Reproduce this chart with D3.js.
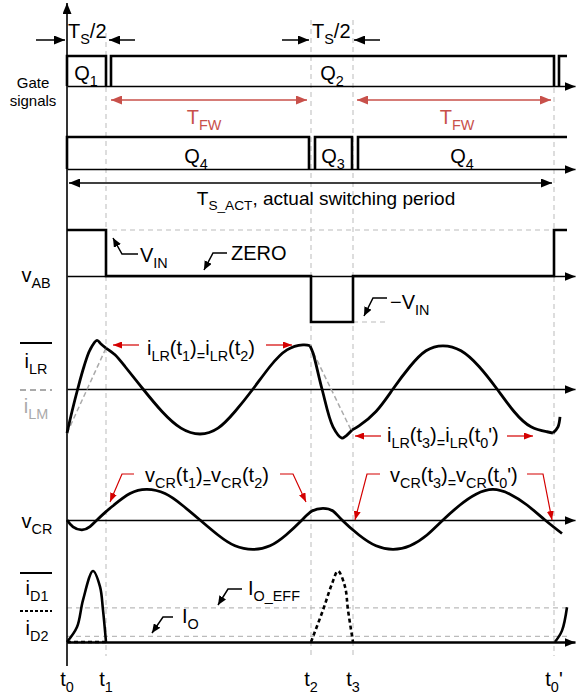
<!DOCTYPE html>
<html>
<head>
<meta charset="utf-8">
<script src="https://cdn.jsdelivr.net/npm/d3@7"></script>
<style>
  body { margin: 0; background: #fff; }
  svg { font-family: "Liberation Sans", Arial, sans-serif; }
</style>
</head>
<body>
<div id="chart"></div>
<script>
// time instants (t0, t1, t2, t3, t0') and their labels
const tMarks = [0, 0.39, 2.44, 2.86, 4.87];
const tLabels = [["t", ["0"]], ["t", ["1"]], ["t", ["2"]], ["t", ["3"]], ["t", ["0"], "'"]];
const tEnd = 5.0;

// gate signals: on intervals
const q1On = [[0, 0.39], [4.92, 5.0]];
const q2On = [[0.44, 4.87]];
const q3On = [[2.48, 2.85]];
const q4On = [[0, 2.42], [2.91, 5.0]];

// vAB steps (time, level)
const vabSteps = [[0, 1], [0.39, 0], [2.44, -1], [2.86, 0], [4.87, 1], [5.0, 1]];

// resonant current iLR, one segment per interval
const ilrSegs = [
    [[0, -0.98], [0.05, -0.5], [0.107, 0], [0.17, 0.5], [0.23, 0.87], [0.30, 1.08], [0.34, 1.0], [0.39, 0.91]],
    [[0.39, 0.91], [0.48, 0.76], [0.58, 0.5], [0.76, 0], [0.95, -0.5], [1.14, -0.87], [1.33, -1.0],
     [1.51, -0.87], [1.68, -0.5], [1.86, 0], [2.03, 0.5], [2.2, 0.87], [2.36, 0.98], [2.43, 0.96]],
    [[2.43, 0.96], [2.46, 0.8], [2.55, 0], [2.66, -0.84], [2.75, -1.09], [2.78, -1.06], [2.85, -0.91]],
    [[2.85, -0.91], [2.92, -0.82], [3.09, -0.5], [3.26, 0], [3.43, 0.5], [3.59, 0.85], [3.76, 0.96],
     [3.94, 0.85], [4.12, 0.5], [4.30, 0], [4.47, -0.5], [4.64, -0.84], [4.80, -0.95], [4.86, -0.98]],
    [[4.86, -0.98], [4.91, -0.84], [4.93, -0.62]]
];
// which iLR segments are smooth resonant arcs
const ilrSmooth = [false, true, false, true, false];
// magnetizing current iLM (dashed, where it is visible)
const ilmSegs = [
    [[0, -0.98], [0.39, 0.91]],
    [[2.43, 0.96], [2.84, -0.91]]
];

// resonant capacitor voltage vCR
const vcrPts = [[0, 0], [0.06, -0.23], [0.15, -0.33], [0.23, -0.22], [0.30, 0], [0.39, 0.28], [0.47, 0.5],
    [0.63, 0.88], [0.80, 1.02], [0.98, 0.88], [1.15, 0.5], [1.33, 0], [1.51, -0.5], [1.68, -0.86],
    [1.86, -0.98], [2.03, -0.86], [2.19, -0.5], [2.35, 0], [2.45, 0.3], [2.56, 0.39], [2.66, 0.3],
    [2.75, 0], [2.92, -0.5], [3.09, -0.86], [3.26, -0.98], [3.43, -0.86], [3.60, -0.5], [3.76, 0],
    [3.93, 0.5], [4.09, 0.86], [4.26, 1.02], [4.43, 0.86], [4.60, 0.5], [4.78, 0], [4.95, -0.45]];

// diode currents
const id1Segs = [
    [[0, 0], [0.10, 0.21], [0.16, 0.59], [0.26, 1.0], [0.33, 0.78], [0.36, 0.45], [0.39, 0]],
    [[4.88, 0], [4.95, 0.16], [5.0, 0.49]]
];
const id2Segs = [
    [[2.44, 0], [2.56, 0.45], [2.65, 0.82], [2.71, 1.0], [2.78, 0.78], [2.81, 0.45], [2.86, 0]]
];
const id2Zero = [[0, 0], [0.39, 0]];
const ioEff = 0.48, io = 0.08;

const W = 576, H = 695;
const RED = "#c8504a", RED2 = "#d40000", GRAY = "#bbbbbb";

const svg = d3.select("#chart").append("svg").attr("width", W).attr("height", H);

const x = d3.scaleLinear().domain([0, 5.08]).range([67, 575]);
const yQ12 = d3.scaleLinear().domain([0, 1]).range([86, 56]);
const yQ34 = d3.scaleLinear().domain([0, 1]).range([169, 137]);
const yAB = d3.scaleLinear().domain([-1, 1]).range([322, 230]);
const yLR = d3.scaleLinear().domain([-1, 1]).range([434, 344]);
const yCR = d3.scaleLinear().domain([-1, 1]).range([550, 490]);
const yD = d3.scaleLinear().domain([0, 1]).range([642, 571]);

// arrow markers
const defs = svg.append("defs");
function marker(id, color, w, h) {
    defs.append("marker").attr("id", id)
        .attr("viewBox", `0 0 ${w} ${h}`).attr("refX", w).attr("refY", h / 2)
        .attr("markerWidth", w).attr("markerHeight", h)
        .attr("markerUnits", "userSpaceOnUse").attr("orient", "auto-start-reverse")
        .append("path").attr("d", `M0,0L${w},${h / 2}L0,${h}z`).attr("fill", color);
}
marker("ab", "#000", 11, 9);
marker("ar", RED, 11, 9);
marker("ar2", RED2, 9, 7);
marker("as", "#000", 9, 8);

// text with subscripts: parts are strings or [sub]
function rich(g, px, py, parts, size, anchor = "start", color = "#000") {
    const t = g.append("text").attr("x", px).attr("y", py)
        .attr("font-size", size).attr("text-anchor", anchor).attr("fill", color);
    let shift = 0;
    parts.forEach(p => {
        const sub = Array.isArray(p);
        const s = sub ? p[0] : p;
        const want = sub ? size * 0.28 : 0;
        const ts = t.append("tspan").text(s);
        if (want !== shift) { ts.attr("dy", want - shift); shift = want; }
        if (sub) ts.attr("font-size", size * 0.72);
    });
    return t;
}

// dashed guides at switching instants
const guideTop = [null, 33, 20, 20, 88];
tMarks.forEach((t, i) => {
    if (i === 0) return;
    svg.append("line").attr("x1", x(t)).attr("x2", x(t))
        .attr("y1", guideTop[i]).attr("y2", 656)
        .attr("stroke", GRAY).attr("stroke-width", 1).attr("stroke-dasharray", "5,4");
});

// horizontal guides
function hguide(x1, x2, y) {
    svg.append("line").attr("x1", x1).attr("x2", x2).attr("y1", y).attr("y2", y)
        .attr("stroke", GRAY).attr("stroke-width", 1.2).attr("stroke-dasharray", "5,4");
}
hguide(x(0.45), x(4.86), yAB(1));
hguide(x(2.86), x(3.18), yAB(-1));
hguide(x(0), x(tEnd), yD(ioEff));
hguide(x(0), x(tEnd), yD(io));

// baselines (axes without ticks) with arrowheads
[yQ12(0), yQ34(0), yAB(0), yLR(0), yCR(0), yD(0)].forEach((yy, i) => {
    const g = svg.append("g").attr("transform", `translate(0,${yy})`)
        .call(d3.axisBottom(x).tickValues([]).tickSizeOuter(0));
    g.select(".domain").attr("stroke", "#000")
        .attr("stroke-width", i === 5 ? 2.6 : 1.6).attr("marker-end", "url(#ab)");
});
// vertical axis
svg.append("line").attr("x1", x(0)).attr("x2", x(0)).attr("y1", 666).attr("y2", 3)
    .attr("stroke", "#000").attr("stroke-width", 1.6).attr("marker-end", "url(#ab)");

// gate pulses
function pulses(on, yS) {
    on.forEach(([a, b]) => {
        let d = `M${x(a)},${yS(0)}V${yS(1)}H${x(b)}`;
        if (b < tEnd) d += `V${yS(0)}`;
        svg.append("path").attr("d", d).attr("fill", "none")
            .attr("stroke", "#000").attr("stroke-width", 2.6);
    });
}
pulses(q1On, yQ12); pulses(q2On, yQ12); pulses(q3On, yQ34); pulses(q4On, yQ34);

rich(svg, 86, 80, ["Q", ["1"]], 20, "middle");
rich(svg, 332, 80, ["Q", ["2"]], 20, "middle");
rich(svg, 196, 163, ["Q", ["4"]], 20, "middle");
rich(svg, 333, 163, ["Q", ["3"]], 20, "middle");
rich(svg, 462, 163, ["Q", ["4"]], 20, "middle");
svg.append("text").attr("x", 33).attr("y", 88).attr("text-anchor", "middle").attr("font-size", 15).text("Gate");
svg.append("text").attr("x", 33).attr("y", 106).attr("text-anchor", "middle").attr("font-size", 15).text("signals");

// Ts/2 arrows
function arrow(d, m, color = "#000", w = 1.5) {
    svg.append("path").attr("d", d).attr("fill", "none").attr("stroke", color)
        .attr("stroke-width", w).attr("marker-end", `url(#${m})`);
}
arrow("M36,40H65", "ab"); arrow("M135,40H109", "ab");
arrow("M282,40H309", "ab"); arrow("M380,40H354", "ab");
rich(svg, 68, 38, ["T", ["S"], "/2"], 20);
rich(svg, 312, 38, ["T", ["S"], "/2"], 20);

// TFW arrows
[[0.44, 2.40], [2.90, 4.84]].forEach(([a, b]) => {
    svg.append("line").attr("x1", x(a)).attr("x2", x(b)).attr("y1", 100).attr("y2", 100)
        .attr("stroke", RED).attr("stroke-width", 1.5)
        .attr("marker-start", "url(#ar)").attr("marker-end", "url(#ar)");
});
rich(svg, 204, 124, ["T", ["FW"]], 20, "middle", RED);
rich(svg, 457, 124, ["T", ["FW"]], 20, "middle", RED);

// actual switching period
svg.append("line").attr("x1", x(0) + 2).attr("x2", x(4.87) - 2).attr("y1", 183).attr("y2", 183)
    .attr("stroke", "#000").attr("stroke-width", 1.5)
    .attr("marker-start", "url(#ab)").attr("marker-end", "url(#ab)");
rich(svg, 326, 205, ["T", ["S_ACT"], ", actual switching period"], 19, "middle");

// vAB
svg.append("path").datum(vabSteps)
    .attr("d", d3.line().x(d => x(d[0])).y(d => yAB(d[1])).curve(d3.curveStepAfter))
    .attr("fill", "none").attr("stroke", "#000").attr("stroke-width", 2.6);
rich(svg, 36, 282, ["v", ["AB"]], 20, "middle");
arrow("M138,254H122L113,238", "as", "#000", 1.5);
rich(svg, 140, 262, ["V", ["IN"]], 20);
arrow("M227,253H213L204,270", "as", "#000", 1.5);
svg.append("text").attr("x", 231).attr("y", 260).attr("font-size", 20).text("ZERO");
arrow("M387,298H373L364,316", "as", "#000", 1.5);
rich(svg, 390, 309, ["\u2212V", ["IN"]], 20);

// iLR / iLM
const lineLR = d3.line().x(d => x(d[0])).y(d => yLR(d[1])).curve(d3.curveCatmullRom.alpha(0.5));
const lineLRs = d3.line().x(d => x(d[0])).y(d => yLR(d[1])).curve(d3.curveNatural);
ilmSegs.forEach(s => svg.append("path").datum(s).attr("d", lineLR)
    .attr("fill", "none").attr("stroke", "#aaa").attr("stroke-width", 1.5).attr("stroke-dasharray", "5,3"));
ilrSegs.forEach((s, i) => svg.append("path").datum(s).attr("d", ilrSmooth[i] ? lineLRs : lineLR)
    .attr("fill", "none").attr("stroke", "#000").attr("stroke-width", 2.8).attr("stroke-linejoin", "round"));
svg.append("line").attr("x1", 20).attr("x2", 52).attr("y1", 343).attr("y2", 343)
    .attr("stroke", "#000").attr("stroke-width", 2);
rich(svg, 36, 368, ["i", ["LR"]], 20, "middle");
svg.append("line").attr("x1", 20).attr("x2", 52).attr("y1", 390).attr("y2", 390)
    .attr("stroke", "#aaa").attr("stroke-width", 2).attr("stroke-dasharray", "6,4");
rich(svg, 36, 413, ["i", ["LM"]], 20, "middle", "#aaa");

arrow("M139,345H113", "ar2", RED2, 1.2);
arrow("M266,345H292", "ar2", RED2, 1.2);
rich(svg, 147, 355, ["i", ["LR"], "(t", ["1"], ")", ["="], "i", ["LR"], "(t", ["2"], ")"], 20);
arrow("M381,436H355", "ar2", RED2, 1.2);
arrow("M507,436H533", "ar2", RED2, 1.2);
rich(svg, 387, 442, ["i", ["LR"], "(t", ["3"], ")", ["="], "i", ["LR"], "(t", ["0"], "')"], 20);

// vCR
const lineCR = d3.line().x(d => x(d[0])).y(d => yCR(d[1])).curve(d3.curveNatural);
svg.append("path").datum(vcrPts).attr("d", lineCR)
    .attr("fill", "none").attr("stroke", "#000").attr("stroke-width", 2.8);
rich(svg, 37, 528, ["v", ["CR"]], 20, "middle");
arrow("M134,474H122L110,502", "ar2", RED2, 1.2);
arrow("M280,474H293L306,502", "ar2", RED2, 1.2);
rich(svg, 145, 482, ["v", ["CR"], "(t", ["1"], ")", ["="], "v", ["CR"], "(t", ["2"], ")"], 20);
arrow("M380,474H367L355,520", "ar2", RED2, 1.2);
arrow("M527,474H543L552,520", "ar2", RED2, 1.2);
rich(svg, 390, 482, ["v", ["CR"], "(t", ["3"], ")", ["="], "v", ["CR"], "(t", ["0"], "')"], 20);

// diode currents
const lineD = d3.line().x(d => x(d[0])).y(d => yD(d[1])).curve(d3.curveCatmullRom.alpha(0.5));
id1Segs.forEach(s => svg.append("path").datum(s).attr("d", lineD)
    .attr("fill", "none").attr("stroke", "#000").attr("stroke-width", 2.6));
id2Segs.concat([id2Zero]).forEach(s => svg.append("path").datum(s).attr("d", lineD)
    .attr("fill", "none").attr("stroke", "#000").attr("stroke-width", 2.6).attr("stroke-dasharray", "4,3"));
svg.append("line").attr("x1", 20).attr("x2", 52).attr("y1", 573).attr("y2", 573)
    .attr("stroke", "#000").attr("stroke-width", 2);
rich(svg, 37, 595, ["i", ["D1"]], 20, "middle");
svg.append("line").attr("x1", 20).attr("x2", 52).attr("y1", 611).attr("y2", 611)
    .attr("stroke", "#000").attr("stroke-width", 2).attr("stroke-dasharray", "3,2");
rich(svg, 37, 635, ["i", ["D2"]], 20, "middle");
arrow("M242,589H228L218,605", "as", "#000", 1.5);
rich(svg, 248, 595, ["I", ["O_EFF"]], 20);
arrow("M173,617H163L152,633", "as", "#000", 1.5);
rich(svg, 182, 623, ["I", ["O"]], 20);

// time labels
tMarks.forEach((t, i) => rich(svg, x(t), 686, tLabels[i], 20, "middle"));
</script>
</body>
</html>
